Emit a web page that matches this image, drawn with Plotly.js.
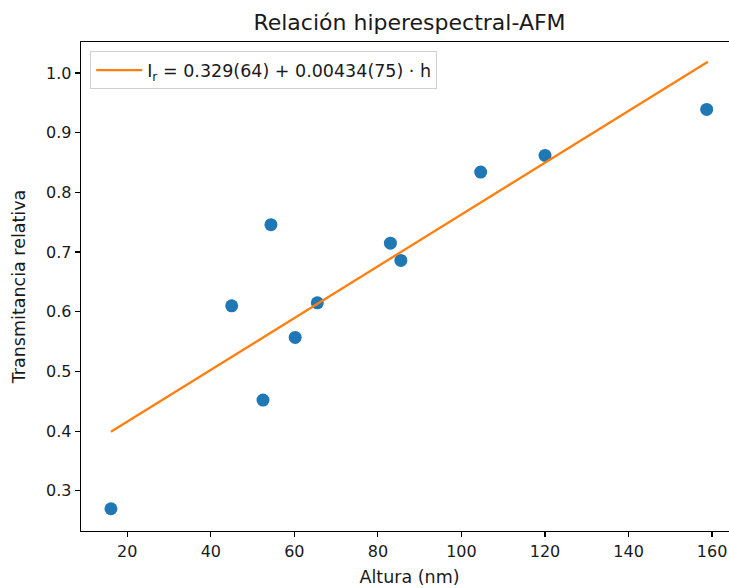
<!DOCTYPE html>
<html>
<head>
<meta charset="utf-8">
<script src="https://cdn.plot.ly/plotly-3.0.1.min.js"></script>
<style>
html,body{margin:0;padding:0;overflow:hidden;background:#fff;}
#chart{width:740px;height:588px;}
</style>
</head>
<body>
<div id="chart"></div>
<script>
// Measured data points
var altura = [16.1, 45.0, 52.5, 54.4, 60.2, 65.5, 83.0, 85.5, 104.6, 120.0, 158.7];
var transmitancia = [0.270, 0.610, 0.452, 0.746, 0.557, 0.615, 0.715, 0.686, 0.834, 0.862, 0.939];

// Fit parameters
var intercept = 0.329;
var slope = 0.00434;
var fitX = [16.1, 159.0];
var fitY = fitX.map(function (h) { return intercept + slope * h; });

var xTicks = [20, 40, 60, 80, 100, 120, 140, 160];
var yTicks = [0.3, 0.4, 0.5, 0.6, 0.7, 0.8, 0.9, 1.0];

var font = "DejaVu Sans, sans-serif";

var traces = [
  {
    x: altura, y: transmitancia, type: "scatter", mode: "markers",
    marker: {color: "#1f77b4", size: 13},
    showlegend: false, hoverinfo: "skip"
  },
  {
    x: fitX, y: fitY, type: "scatter", mode: "lines",
    line: {color: "#ff7f0e", width: 2.3},
    name: "I<sub>r</sub> = 0.329(64) + 0.00434(75) · h"
  }
];

var axisCommon = {
  showline: true, linecolor: "#000", linewidth: 1.3, mirror: true,
  ticks: "outside", ticklen: 5, tickwidth: 1.2, tickcolor: "#000",
  showgrid: false, zeroline: false,
  tickfont: {family: font, size: 16, color: "#1a1a1a"},
  automargin: false
};

var layout = {
  width: 740, height: 588,
  paper_bgcolor: "#fff", plot_bgcolor: "#fff",
  margin: {l: 81, r: 2, t: 42, b: 57},
  title: {
    text: "Relación hiperespectral-AFM",
    font: {family: font, size: 22, color: "#1a1a1a"},
    x: 0.5, xanchor: "center", xref: "paper",
    y: 1 - 22 / 588, yanchor: "middle", yref: "container"
  },
  xaxis: Object.assign({}, axisCommon, {
    range: [8.93, 166.2],
    tickvals: xTicks,
    ticktext: xTicks.map(String),
    title: {text: "Altura (nm)", font: {family: font, size: 17.5, color: "#1a1a1a"}, standoff: 11}
  }),
  yaxis: Object.assign({}, axisCommon, {
    range: [0.2327, 1.052],
    tickvals: yTicks,
    ticktext: yTicks.map(function (v) { return v.toFixed(1); }),
    title: {text: "Transmitancia relativa", font: {family: font, size: 17.5, color: "#1a1a1a"}, standoff: 16}
  }),
  legend: {
    x: 0.014, y: 0.981, xanchor: "left", yanchor: "top",
    bgcolor: "rgba(255,255,255,0.8)", bordercolor: "#d0d0d0", borderwidth: 1,
    itemwidth: 46,
    font: {family: font, size: 17.5, color: "#1a1a1a"}
  },
  showlegend: true
};

Plotly.newPlot("chart", traces, layout, {displayModeBar: false, staticPlot: true});
</script>
</body>
</html>
